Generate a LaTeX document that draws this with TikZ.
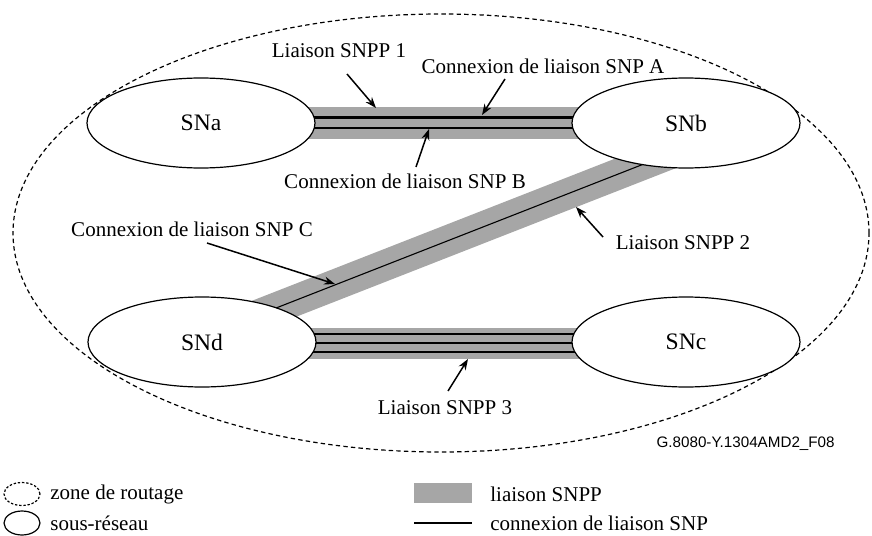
\documentclass[tikz,border=0pt]{standalone}
\usepackage{fontspec}
\setmainfont{Liberation Serif}
\newfontfamily\refsans{Liberation Sans}
\usetikzlibrary{shapes.geometric,arrows.meta,backgrounds}
\definecolor{snppgray}{RGB}{166,166,166}
\tikzset{
  subnet/.style={draw, ellipse, fill=white, line width=0.6pt, inner sep=0pt,
    minimum width=114pt, minimum height=45pt, font=\fontsize{11.8}{14}\selectfont},
  zone/.style={draw, ellipse, inner sep=0pt, line width=0.6pt,
    dash pattern=on 2.2pt off 1.6pt},
  snpp/.style={draw=snppgray, line width=15.5pt},
  snpconn/.style={draw=black, line width=1.1pt},
  thinconn/.style={draw=black, line width=0.55pt},
  pointer/.style={-{Stealth[length=5.5pt,width=4pt]}, line width=0.75pt},
  lbl/.style={inner sep=0pt, font=\fontsize{10.5}{12}\selectfont},
}

\begin{document}
\begin{tikzpicture}[x=0.5pt, y=-0.5pt]
    \useasboundingbox (0,0) rectangle (872,535);

    % routing zone and subnetworks
    \node [zone, minimum width=428pt, minimum height=219pt] (area) at (441,233) {};
    \node [subnet] (sna) at (201,123) {SNa};
    \node [subnet] (snb) at (686,123) {SNb};
    \node [subnet] (snd) at (202,342) {SNd};
    \node [subnet] (snc) at (686,342) {SNc};

    % SNPP links under the subnetworks
    \begin{scope}[on background layer]
        \draw [snpp] (sna.center) -- (snb.center);
        \draw [snpconn] ([yshift=2.75pt]sna.center) -- ([yshift=2.75pt]snb.center);
        \draw [snpconn] ([yshift=-2.5pt]sna.center) -- ([yshift=-2.5pt]snb.center);

        \draw [snpp] ([yshift=2.5pt]snd.center) -- ([yshift=-12.25pt]snb.center);
        \draw [thinconn] ([yshift=2.5pt]snd.center) -- ([yshift=-12.25pt]snb.center);

        \draw [snpp] ([yshift=-0.5pt]snd.center) -- ([yshift=-0.5pt]snc.center);
        \draw [snpconn] ([yshift=4pt]snd.center) -- ([yshift=4pt]snc.center);
        \draw [snpconn] ([yshift=-0.5pt]snd.center) -- ([yshift=-0.5pt]snc.center);
        \draw [snpconn] ([yshift=-5pt]snd.center) -- ([yshift=-5pt]snc.center);
    \end{scope}

    % labels
    \node [lbl] (snpp1) at (339,51) {Liaison SNPP 1};
    \node [lbl] (conna) at (543,66) {Connexion de liaison SNP A};
    \node [lbl] (connb) at (405,181) {Connexion de liaison SNP B};
    \node [lbl] (connc) at (192,229) {Connexion de liaison SNP C};
    \node [lbl] (snpp2) at (683,243) {Liaison SNPP 2};
    \node [lbl] (snpp3) at (445,408) {Liaison SNPP 3};
    \node [anchor=east, inner sep=0pt, font=\refsans\fontsize{7.6}{9}\selectfont] (figid) at (835,444) {G.8080-Y.1304AMD2\_F08};

    \coordinate (p1a) at (347,74);  \coordinate (p1b) at (376,108);
    \coordinate (pAa) at (505,79);  \coordinate (pAb) at (482,115);
    \coordinate (pBa) at (416,167); \coordinate (pBb) at (429,129);
    \coordinate (pCa) at (207,243); \coordinate (pCb) at (335,284);
    \coordinate (p2a) at (603,237); \coordinate (p2b) at (576,207);
    \coordinate (p3a) at (448,391); \coordinate (p3b) at (468,359);
    \draw [pointer] (p1a) -- (p1b);
    \draw [pointer] (pAa) -- (pAb);
    \draw [pointer] (pBa) -- (pBb);
    \draw [pointer] (pCa) -- (pCb);
    \draw [pointer] (p2a) -- (p2b);
    \draw [pointer] (p3a) -- (p3b);

    % legend
    \node [zone, minimum width=18pt, minimum height=11.5pt, dash pattern=on 1.2pt off 0.9pt] (keyzone) at (22,494) {};
    \node [lbl, anchor=west] (keyzonetxt) at (50,494) {zone de routage};
    \node [draw, ellipse, line width=0.6pt, inner sep=0pt, minimum width=18pt, minimum height=12pt] (keysn) at (22,523) {};
    \node [lbl, anchor=west] (keysntxt) at (50,523) {sous-réseau};
    \node [fill=snppgray, inner sep=0pt, minimum width=29pt, minimum height=10pt] (keysnpp) at (443,493) {};
    \node [lbl, anchor=west] (keysnpptxt) at (490,494) {liaison SNPP};
    \coordinate (keyl) at (414,523); \coordinate (keyr) at (472,523);
    \draw [snpconn] (keyl) -- (keyr);
    \node [lbl, anchor=west] (keyconntxt) at (490,523) {connexion de liaison SNP};
\end{tikzpicture}
\end{document}
